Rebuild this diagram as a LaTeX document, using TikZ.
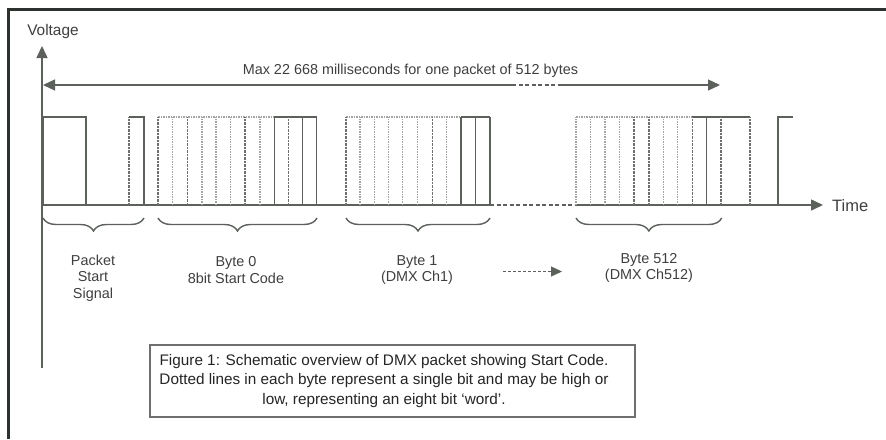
\documentclass[tikz,border=0pt]{standalone}
\usepackage{fontspec}
\setmainfont{Liberation Sans}
\usetikzlibrary{arrows.meta,decorations.pathreplacing}
\definecolor{framecol}{HTML}{2E322F}
\definecolor{sigcol}{HTML}{5C615C}
\definecolor{bitcol}{HTML}{A2A6A2}
\definecolor{txtcol}{HTML}{3E403E}
\definecolor{captxt}{HTML}{252525}
\definecolor{boxcol}{HTML}{6E706E}
\tikzset{
  frame/.style={draw=framecol,line width=3.5pt},
  sig/.style={draw=sigcol,line width=1.5pt},
  bitdk/.style={draw=sigcol!90!white,line width=1.2pt,dash pattern=on 2.5pt off 1pt},
  bitlt/.style={draw=bitcol,line width=1.1pt,dash pattern=on 1.5pt off 1pt},
  axis/.style={draw=sigcol,line width=1.5pt},
  tip/.style={-{Triangle[length=12pt,width=11pt]}},
  tipleft/.style={{Triangle[length=12pt,width=11pt]}-},
  smalltip/.style={-{Triangle[length=11pt,width=10pt]}},
  lbl/.style={text=txtcol,font=\fontsize{14.4}{16.5}\selectfont,align=center,inner sep=0pt},
  brc/.style={draw=sigcol,line width=1.4pt,decorate,decoration={brace,mirror,amplitude=13pt}},
}
\begin{document}
\begin{tikzpicture}[x=1pt,y=-1pt]
  \useasboundingbox (0,0) rectangle (886,439);
  \fill[white] (0,0) rectangle (886,439);

  % outer frame (top and left edges)
  \draw[frame,line join=miter] (8.5,439) -- (8.5,9.5) -- (886,9.5);

  % axes
  \coordinate (origin) at (42,205);
  \coordinate (vtop) at (42,46);
  \coordinate (vbot) at (42,368);
  \coordinate (gapL) at (490,205);
  \coordinate (gapR) at (576,205);
  \coordinate (tend) at (823,205);
  \draw[axis,tip] (vbot) -- (vtop);
  \draw[axis] (origin) -- (gapL);
  \draw[axis,dash pattern=on 4pt off 2.5pt] (gapL) -- (gapR);
  \draw[axis,tip] (gapR) -- (tend);

  \node[lbl,font=\fontsize{15.4}{17}\selectfont] (voltage) at (53,32) {Voltage};
  \node[lbl,anchor=west,font=\fontsize{16.5}{18}\selectfont] (time) at (832,206) {Time};

  % packet length arrow
  \coordinate (maxL) at (43,85);
  \coordinate (maxA) at (512,85);
  \coordinate (maxB) at (560,85);
  \coordinate (maxR) at (720,85);
  \draw[axis,line width=1.3pt,tipleft] (maxL) -- (maxA);
  \draw[axis,line width=1.3pt,dash pattern=on 4pt off 2.5pt] (maxA) -- (maxB);
  \draw[axis,line width=1.3pt,tip] (maxB) -- (maxR);
  \node[lbl] (maxlbl) at (410.5,71) {Max 22 668 milliseconds for one packet of 512 bytes};

  % packet start signal
  \draw[sig] (43,205) -- (43,117) -- (86,117) -- (86,205);
  \draw[bitdk] (129,205) -- (129,117);
  \draw[sig] (129,117) -- (144,117) -- (144,205);

  % byte 0
  \draw[bitlt] (158,117) -- (274.3,117);
  \draw[sig] (274.3,117) -- (316.7,117);
  \foreach \x in {172.7,202,216,230.7,260} \draw[bitlt] (\x,205) -- (\x,117);
  \foreach \x in {158,187.3,245,288.3} \draw[bitdk] (\x,205) -- (\x,117);
  \foreach \x in {274.3,302.7,316.7} \draw[sig] (\x,205) -- (\x,117);

  % byte 1
  \draw[bitlt] (346,117) -- (461,117);
  \draw[sig] (461,117) -- (490,117);
  \foreach \x in {360,374.3,388.3,402.7,417.3,446.7} \draw[bitlt] (\x,205) -- (\x,117);
  \foreach \x in {346,432.3} \draw[bitdk] (\x,205) -- (\x,117);
  \foreach \x in {461,475.7,490} \draw[sig] (\x,205) -- (\x,117);

  % byte 512
  \draw[bitlt] (576,117) -- (692.3,117);
  \draw[sig] (692.3,117) -- (750,117);
  \foreach \x in {576,590.7,605,619.3,663.3,677.7} \draw[bitlt] (\x,205) -- (\x,117);
  \foreach \x in {634,649,692.3,721,750} \draw[bitdk] (\x,205) -- (\x,117);
  \draw[sig] (706.7,205) -- (706.7,117);

  % next packet begins
  \draw[sig] (778,205) -- (778,117) -- (793,117);

  % braces
  \draw[brc] (43,218) -- (144,218);
  \draw[brc] (158,218) -- (317,218);
  \draw[brc] (346,218) -- (490,218);
  \draw[brc] (576,218) -- (721.7,218);

  % labels under the braces
  \node[lbl] (pss) at (93,278) {Packet\\Start\\Signal};
  \node[lbl] (b0) at (236,270) {Byte 0\\8bit Start Code};
  \node[lbl] (b1) at (417,270) {Byte 1\\(DMX Ch1)};
  \node[lbl] (b512) at (649,268) {Byte 512\\(DMX Ch512)};
  \coordinate (contA) at (503,271.5);
  \coordinate (contB) at (562,271.5);
  \draw[axis,line width=1.2pt,dash pattern=on 3pt off 2pt,smalltip] (contA) -- (contB);

  % caption box
  \node[draw=boxcol,line width=1.1pt,minimum width=485pt,minimum height=72pt,inner sep=0pt] (capbox) at (392.5,381) {};
  \node[text=captxt,font=\fontsize{15.3}{19.5}\selectfont,align=center,inner sep=0pt] (captext) at (384,381)
    {Figure 1: Schematic overview of DMX packet showing Start Code.\\
     Dotted lines in each byte represent a single bit and may be high or\\
     low, representing an eight bit ‘word’.};
\end{tikzpicture}
\end{document}
